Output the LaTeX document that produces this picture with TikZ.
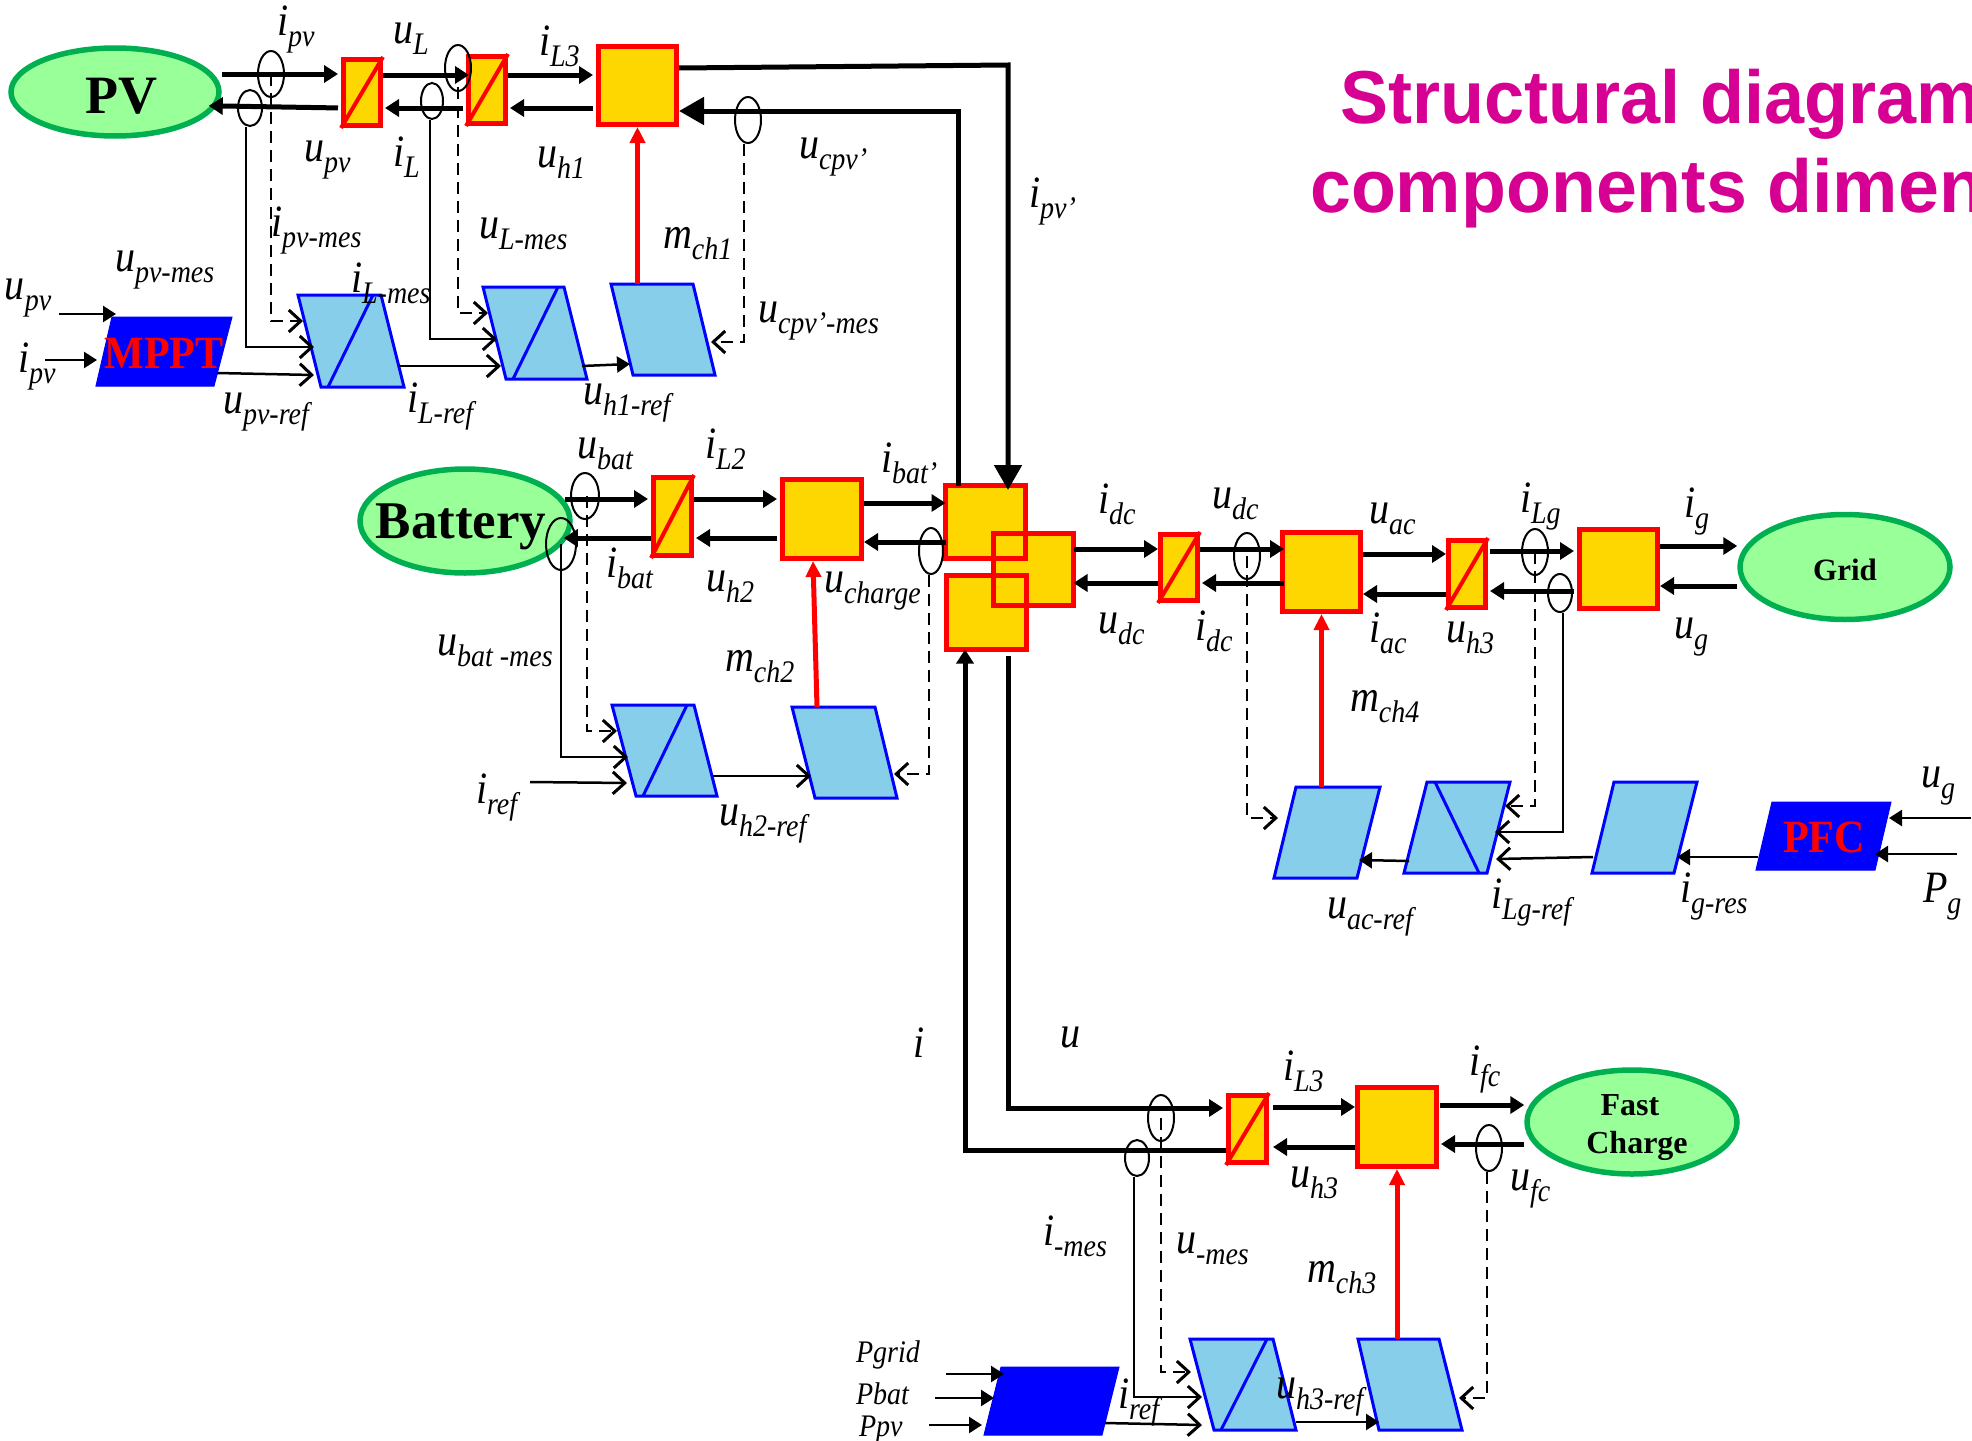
\documentclass[tikz,border=0pt]{standalone}
\usepackage{fontspec}
\usepackage{graphicx}
\setmainfont{Liberation Serif}
\newfontfamily\arialf{Liberation Sans}
\usetikzlibrary{arrows.meta,shapes.geometric,calc}
\definecolor{goldc}{HTML}{FFD700}
\definecolor{greenf}{HTML}{99FF99}
\definecolor{greenl}{HTML}{00B050}
\definecolor{skyc}{HTML}{87CEEB}
\definecolor{titlec}{HTML}{D60093}
\tikzset{
  goldbox/.style={draw=red,fill=goldc,line width=5pt,inner sep=0pt},
  blob/.style={ellipse,draw=greenl,fill=greenf,line width=5.5pt,inner sep=0pt},
  ring/.style={ellipse,draw=black,line width=2pt,inner sep=0pt},
  anchorbox/.style={rectangle,inner sep=0pt,outer sep=0pt},
  pgramline/.style={draw=blue,fill=skyc,line width=3pt,line join=miter},
  pgramsolid/.style={draw=blue,fill=blue,line width=1pt},
  diagblue/.style={draw=blue,line width=3pt},
  diagred/.style={draw=red,line width=4pt},
  labelnode/.style={anchor=base west,inner sep=0pt,outer sep=0pt,font=\itshape},
  boldtext/.style={anchor=base,inner sep=0pt,outer sep=0pt,font=\bfseries},
  bus/.style={line width=5pt,-{Triangle[length=14pt,width=17pt]}},
  busf/.style={bus,shorten >=3pt},
  busb/.style={bus,shorten <=3pt,shorten >=2pt},
  bigbus/.style={line width=5pt,-{Triangle[length=25pt,width=27pt]}},
  sigopen/.style={line width=2.5pt,-{Straight Barb[length=12pt,width=22pt,line width=3pt]}},
  sigfill/.style={line width=2.5pt,-{Triangle[length=13pt,width=16pt]}},
  dashsig/.style={line width=2pt,dash pattern=on 12pt off 7pt,-{Straight Barb[length=12pt,width=22pt,line width=3pt]}},
  redarrow/.style={draw=red,line width=5pt,-{Triangle[length=16pt,width=15pt]}}
}
\newcommand{\lab}[5]{\node[labelnode] (#1) at (#2,#3) {\scalebox{1}[1.12]{\fontsize{40}{40}\selectfont #4\raisebox{-10pt}{\fontsize{28}{28}\selectfont #5}}};}
\newcommand{\plainlab}[4]{\node[labelnode] (#1) at (#2,#3) {\scalebox{1}[1.12]{\fontsize{28}{28}\selectfont #4}};}
\newcommand{\bx}[5]{\node[goldbox,minimum width={(#4-#2-5)*1pt},minimum height={(#5-#3-5)*1pt}] (#1) at ({(#2+#4)/2},{(#3+#5)/2}) {};}
\newcommand{\conv}[5]{\bx{#1}{#2}{#3}{#4}{#5}\draw[diagred] (#1.south west) -- (#1.north east);}
\newcommand{\hubfill}[5]{\node[anchorbox,fill=goldc,minimum width={(#4-#2-5)*1pt},minimum height={(#5-#3-5)*1pt}] (#1) at ({(#2+#4)/2},{(#3+#5)/2}) {};}
\newcommand{\huboutline}[1]{\draw[red,line width=5pt] (#1.north west) rectangle (#1.south east);}
% name, x top-left, x top-right, x bottom-right, x bottom-left, y top, y bottom, style
\newcommand{\pgram}[8]{\node[anchorbox,minimum width={(#3-#2)*1pt},minimum height={(#7-#6)*1pt}] (#1) at ({(#2+#3+#4+#5)/4},{(#6+#7)/2}) {};
  \draw[#8] (#2,#6) -- (#3,#6) -- (#4,#7) -- (#5,#7) -- cycle;}
\newcommand{\ringn}[5]{\node[ring,minimum width={2*#4*1pt},minimum height={2*#5*1pt}] (#1) at (#2,#3) {};}
\begin{document}
\begin{tikzpicture}[x=1pt,y=-1pt]
\useasboundingbox (0,0) rectangle (1972,1440);
\clip (0,0) rectangle (1972,1440);
\fill[white] (0,0) rectangle (1972,1440);

% Title
\node[anchor=base west,inner sep=0pt,text=titlec] (title1) at (1340,123) {\scalebox{0.96}[1]{\arialf\bfseries\fontsize{75}{75}\selectfont Structural diagram}};
\node[anchor=base west,inner sep=0pt,text=titlec] (title2) at (1310,212) {\scalebox{0.98}[1]{\arialf\bfseries\fontsize{75}{75}\selectfont components dimen}};

% Sources
\node[blob,minimum width=208pt,minimum height=88pt] (pv) at (115,92) {};
\node[blob,minimum width=210pt,minimum height=104pt] (bat) at (465,521) {};
\node[blob,minimum width=210pt,minimum height=105pt] (grid) at (1845,567) {};
\node[blob,minimum width=210pt,minimum height=104pt] (fast) at (1632,1122) {};
\node[boldtext] (pvt) at (121,113) {\fontsize{54}{54}\selectfont PV};
\node[boldtext] (batt) at (461,538) {\fontsize{53}{53}\selectfont Battery};
\node[boldtext] (gridt) at (1845,580) {\fontsize{31}{31}\selectfont Grid};
\node[boldtext] (fastt1) at (1630,1115) {\fontsize{32}{32}\selectfont Fast};
\node[boldtext] (fastt2) at (1637,1153) {\fontsize{32}{32}\selectfont Charge};

% Converters and gold boxes
\conv{c1}{341}{57}{383}{128}
\conv{c2}{466}{54}{508}{126}
\bx{b1}{596}{44}{679}{127}
\conv{c3}{651}{475}{694}{558}
\bx{b2}{780}{477}{864}{561}
\conv{c4}{1158}{532}{1200}{603}
\bx{b4}{1280}{530}{1363}{614}
\conv{c6}{1446}{538}{1488}{610}
\bx{b6}{1577}{527}{1660}{611}
\conv{c5}{1226}{1093}{1269}{1165}
\bx{b5}{1355}{1085}{1439}{1169}

% Central hub of three overlapping boxes
\hubfill{h1}{943}{483}{1028}{561}
\hubfill{h3}{944}{573}{1029}{652}
\hubfill{h2}{991}{531}{1076}{608}
\huboutline{h1}
\huboutline{h3}
\huboutline{h2}

% Control blocks
\pgram{p1}{298}{381}{404}{321}{295}{387}{pgramline}
\draw[diagblue] (373,295) -- (328,387);
\pgram{p2}{483}{564}{587}{506}{287}{379}{pgramline}
\draw[diagblue] (558,287) -- (513,379);
\pgram{p3}{611}{693}{715}{633}{284}{375}{pgramline}
\pgram{p4}{612}{694}{717}{636}{705}{796}{pgramline}
\draw[diagblue] (687,705) -- (643,796);
\pgram{p5}{792}{875}{897}{815}{707}{798}{pgramline}
\pgram{p8}{1296}{1380}{1357}{1274}{787}{878}{pgramline}
\pgram{p9}{1427}{1510}{1487}{1404}{782}{873}{pgramline}
\draw[diagblue] (1435,782) -- (1479,873);
\pgram{p10}{1614}{1697}{1674}{1592}{782}{873}{pgramline}
\pgram{p6}{1190}{1273}{1296}{1214}{1339}{1430}{pgramline}
\draw[diagblue] (1267,1339) -- (1221,1430);
\pgram{p7}{1358}{1439}{1462}{1379}{1339}{1430}{pgramline}
\pgram{mppt}{112}{232}{214}{96}{317}{386}{pgramsolid}
\pgram{pfc}{1772}{1891}{1875}{1756}{802}{870}{pgramsolid}
\pgram{pwr}{1001}{1119}{1102}{984}{1367}{1435}{pgramsolid}
\node[boldtext,text=red] (mpptt) at (164,368) {\scalebox{1}[1.1]{\fontsize{42}{42}\selectfont MPPT}};
\node[boldtext,text=red] (pfct) at (1824,852) {\scalebox{1}[1.1]{\fontsize{42}{42}\selectfont PFC}};

% Ports
\coordinate (p1a) at (303,321); \coordinate (p1b) at (314,347); \coordinate (p1c) at (314,375); \coordinate (p1o) at (399,366);
\coordinate (p2a) at (488,313); \coordinate (p2b) at (497,339); \coordinate (p2c) at (501,366); \coordinate (p2o) at (582,366);
\coordinate (p3a) at (630,364); \coordinate (p3b) at (711,342);
\coordinate (mi1) at (116,314); \coordinate (mi2) at (97,360); \coordinate (mo) at (217,373);
\coordinate (fu) at (59,314); \coordinate (fi) at (45,360);
\coordinate (p4a) at (617,731); \coordinate (p4b) at (628,757); \coordinate (p4c) at (627,783); \coordinate (p4o) at (713,776);
\coordinate (fr) at (530,782);
\coordinate (p5a) at (811,776); \coordinate (p5b) at (894,774);
\coordinate (p6a) at (1191,1372); \coordinate (p6b) at (1202,1397); \coordinate (p6c) at (1202,1425); \coordinate (p6o) at (1296,1422);
\coordinate (p7a) at (1379,1422); \coordinate (p7b) at (1459,1398);
\coordinate (w1) at (1004,1374); \coordinate (w2) at (994,1398); \coordinate (w3) at (982,1425); \coordinate (wo) at (1105,1423);
\coordinate (g1) at (946,1374); \coordinate (g2) at (935,1398); \coordinate (g3) at (929,1425);
\coordinate (p8a) at (1278,818); \coordinate (p8b) at (1359,860);
\coordinate (p9a) at (1505,806); \coordinate (p9b) at (1495,832); \coordinate (p9c) at (1496,859); \coordinate (p9o) at (1409,861);
\coordinate (p10i) at (1677,857); \coordinate (p10o) at (1593,857);
\coordinate (pfco) at (1758,857); \coordinate (pfc1) at (1889,818); \coordinate (pfc2) at (1875,854);
\coordinate (f3) at (1971,818); \coordinate (f4) at (1957,854);
\coordinate (hubin) at (1008,490);

% Measurement rings
\ringn{e1}{271}{74}{13}{23}
\ringn{e2}{250}{108}{12}{18}
\ringn{e3}{458}{68}{13}{23}
\ringn{e4}{432}{101}{11}{18}
\ringn{e5}{748}{120}{13}{23}
\ringn{e6}{585}{496}{14}{23}
\ringn{e7}{561}{544}{15}{26}
\ringn{e8}{931}{551}{12}{23}
\ringn{e9}{1247}{556}{13}{23}
\ringn{e10}{1535}{552}{13}{23}
\ringn{e11}{1560}{593}{12}{19}
\ringn{e12}{1161}{1118}{13}{23}
\ringn{e13}{1137}{1158}{12}{18}
\ringn{e14}{1489}{1148}{13}{23}

% Power connectors: PV row
\draw[busf] (pv.east |- 0,74) -- (c1.west |- 0,74);
\draw[bus,shorten >=-3pt] (c1.east |- 0,75) -- (c2.west |- 0,75);
\draw[busf] (c2.east |- 0,75) -- (b1.west |- 0,75);
\draw[busb,shorten >=-13pt] (c1.west |- 0,108) -- (pv.east |- 0,106);
\draw[busb] (c2.west |- 0,108) -- (c1.east |- 0,108);
\draw[busb] (b1.west |- 0,108) -- (c2.east |- 0,108);
\draw[bigbus] (b1.east |- 0,68) -- (hubin |- 0,65) -- (hubin);
\draw[bigbus] (h1.north -| 958,0) -- (958,111) -- (b1.east |- 0,111);
% Battery row
\draw[busf,shorten <=-8pt] (bat.east |- 0,499) -- (c3.west |- 0,499);
\draw[busf] (c3.east |- 0,499) -- (b2.west |- 0,499);
\draw[bus] (b2.east |- 0,503) -- (h1.west |- 0,503);
\draw[bus,shorten >=-9pt] (c3.west |- 0,538) -- (bat.east |- 0,538);
\draw[busb] (b2.west |- 0,538) -- (c3.east |- 0,538);
\draw[bus] (h1.west |- 0,542) -- (b2.east |- 0,542);
% Grid row
\draw[bus] (h2.east |- 0,549) -- (c4.west |- 0,549);
\draw[bus,shorten >=-4pt] (c4.east |- 0,549) -- (b4.west |- 0,549);
\draw[bus] (b4.east |- 0,554) -- (c6.west |- 0,554);
\draw[busf,shorten <=2pt] (c6.east |- 0,551) -- (b6.west |- 0,551);
\draw[bus] (b6.east |- 0,546) -- (grid.west |- 0,546);
\draw[bus] (c4.west |- 0,583) -- (h2.east |- 0,583);
\draw[bus,shorten <=-4pt,shorten >=2pt] (b4.west |- 0,583) -- (c4.east |- 0,583);
\draw[bus] (c6.west |- 0,594) -- (b4.east |- 0,594);
\draw[busb] (b6.west |- 0,591) -- (c6.east |- 0,591);
\draw[bus] (grid.west |- 0,586) -- (b6.east |- 0,586);
% Fast charge row
\draw[bus,shorten <=6pt,shorten >=3pt] (h3.south -| 1008,0) -- (1008,1108) -- (c5.west |- 0,1108);
\draw[bus,line cap=butt] (c5.west |- 0,1150) -- (965,1150) -- (h3.south -| 965,0);
\draw[bus,shorten <=4pt] (c5.east |- 0,1107) -- (b5.west |- 0,1107);
\draw[bus,shorten <=1pt] (b5.east |- 0,1105) -- (fast.west |- 0,1105);
\draw[bus,shorten >=4pt] (b5.west |- 0,1147) -- (c5.east |- 0,1147);
\draw[bus,shorten >=2pt] (fast.west |- 0,1144) -- (b5.east |- 0,1144);

% Red modulation arrows
\draw[redarrow] (p3.north -| b1.south) -- (b1.south);
\draw[redarrow] (p5.north -| 817,0) -- ([xshift=-9pt]b2.south);
\draw[redarrow] (p8.north -| b4.south) -- (b4.south);
\draw[redarrow] (p7.north -| b5.south) -- (b5.south);

% Measurement feedback
\draw[dashsig] (e1.center) |- (p1a);
\draw[sigopen] ([xshift=-4pt]e2.south) |- (p1b);
\draw[dashsig] (e3.center) |- (p2a);
\draw[sigopen] ([xshift=-2pt]e4.south) |- (p2b);
\draw[dashsig] ([xshift=-4pt]e5.south) |- (p3b);
\draw[dashsig] ([xshift=2pt]e6.center) |- (p4a);
\draw[sigopen] (e7.center) |- (p4b);
\draw[dashsig] ([xshift=-2pt]e8.south) |- (p5b);
\draw[dashsig] (e9.center) |- (p8a);
\draw[dashsig] (e10.center) |- (p9a);
\draw[sigopen] ([xshift=3pt]e11.south) |- (p9b);
\draw[dashsig] (e12.center) |- (p6a);
\draw[sigopen] ([xshift=-3pt]e13.south) |- (p6b);
\draw[dashsig] ([xshift=-2pt]e14.south) |- (p7b);

% Signal connectors
\draw[sigopen] (mo) -- (p1c);
\draw[sigopen] (p1o) -- (p2c);
\draw[sigfill] (p2o) -- (p3a);
\draw[sigfill] (fu) -- (mi1);
\draw[sigfill] (fi) -- (mi2);
\draw[sigopen] (fr) -- (p4c);
\draw[sigopen] (p4o) -- (p5a);
\draw[sigopen] (wo) -- (p6c);
\draw[sigfill] (p6o) -- (p7a);
\draw[sigfill] (g1) -- (w1);
\draw[sigfill] (g2) -- (w2);
\draw[sigfill] (g3) -- (w3);
\draw[sigfill] (pfco) -- (p10i);
\draw[sigopen] (p10o) -- (p9c);
\draw[sigfill] (p9o) -- (p8b);
\draw[sigfill] (f3) -- (pfc1);
\draw[sigfill] (f4) -- (pfc2);

% Labels: PV section
\lab{l1}{277}{35}{i}{pv}
\lab{l2}{393}{43}{u}{L}
\lab{l3}{539}{55}{i}{L3}
\lab{l4}{304}{161}{u}{pv}
\lab{l5}{393}{166}{i}{L}
\lab{l6}{537}{167}{u}{h1}
\lab{l7}{799}{158}{u}{cpv'}
\lab{l8}{271}{236}{i}{pv-mes}
\lab{l9}{479}{238}{u}{L-mes}
\lab{l10}{663}{248}{m}{ch1}
\lab{l11}{115}{271}{u}{pv-mes}
\lab{l12}{351}{292}{i}{L-mes}
\lab{l13}{758}{322}{u}{cpv'-mes}
\lab{l14}{5}{299}{u}{pv}
\lab{l15}{18}{372}{i}{pv}
\lab{l16}{223}{413}{u}{pv-ref}
\lab{l17}{407}{412}{i}{L-ref}
\lab{l18}{583}{404}{u}{h1-ref}
\lab{l19}{1029}{207}{i}{pv'}
% Battery section
\lab{l20}{577}{458}{u}{bat}
\lab{l21}{705}{458}{i}{L2}
\lab{l22}{881}{472}{i}{bat'}
\lab{l23}{606}{577}{i}{bat}
\lab{l24}{706}{591}{u}{h2}
\lab{l25}{824}{592}{u}{charge}
\lab{l26}{437}{655}{u}{bat -mes}
\lab{l27}{725}{671}{m}{ch2}
\lab{l28}{476}{803}{i}{ref}
\lab{l29}{719}{825}{u}{h2-ref}
% Grid section
\lab{l30}{1098}{513}{i}{dc}
\lab{l31}{1212}{508}{u}{dc}
\lab{l32}{1369}{523}{u}{ac}
\lab{l33}{1520}{512}{i}{Lg}
\lab{l34}{1684}{517}{i}{g}
\lab{l35}{1098}{633}{u}{dc}
\lab{l36}{1195}{640}{i}{dc}
\lab{l37}{1369}{642}{i}{ac}
\lab{l38}{1446}{642}{u}{h3}
\lab{l39}{1674}{638}{u}{g}
\lab{l40}{1350}{711}{m}{ch4}
\lab{l41}{1921}{787}{u}{g}
\lab{l42}{1923}{902}{P}{g}
\lab{l43}{1327}{918}{u}{ac-ref}
\lab{l44}{1491}{908}{i}{Lg-ref}
\lab{l45}{1680}{902}{i}{g-res}
% Fast charge section
\lab{l46}{913}{1057}{i}{}
\lab{l47}{1060}{1047}{u}{}
\lab{l48}{1283}{1080}{i}{L3}
\lab{l49}{1469}{1075}{i}{fc}
\lab{l50}{1290}{1187}{u}{h3}
\lab{l51}{1510}{1190}{u}{fc}
\lab{l52}{1043}{1245}{i}{-mes}
\lab{l53}{1176}{1253}{u}{-mes}
\lab{l54}{1307}{1282}{m}{ch3}
\lab{l55}{1118}{1408}{i}{ref}
\lab{l56}{1276}{1398}{u}{h3-ref}
\plainlab{l57}{856}{1362}{Pgrid}
\plainlab{l58}{856}{1404}{Pbat}
\plainlab{l59}{859}{1436}{Ppv}
\end{tikzpicture}
\end{document}
